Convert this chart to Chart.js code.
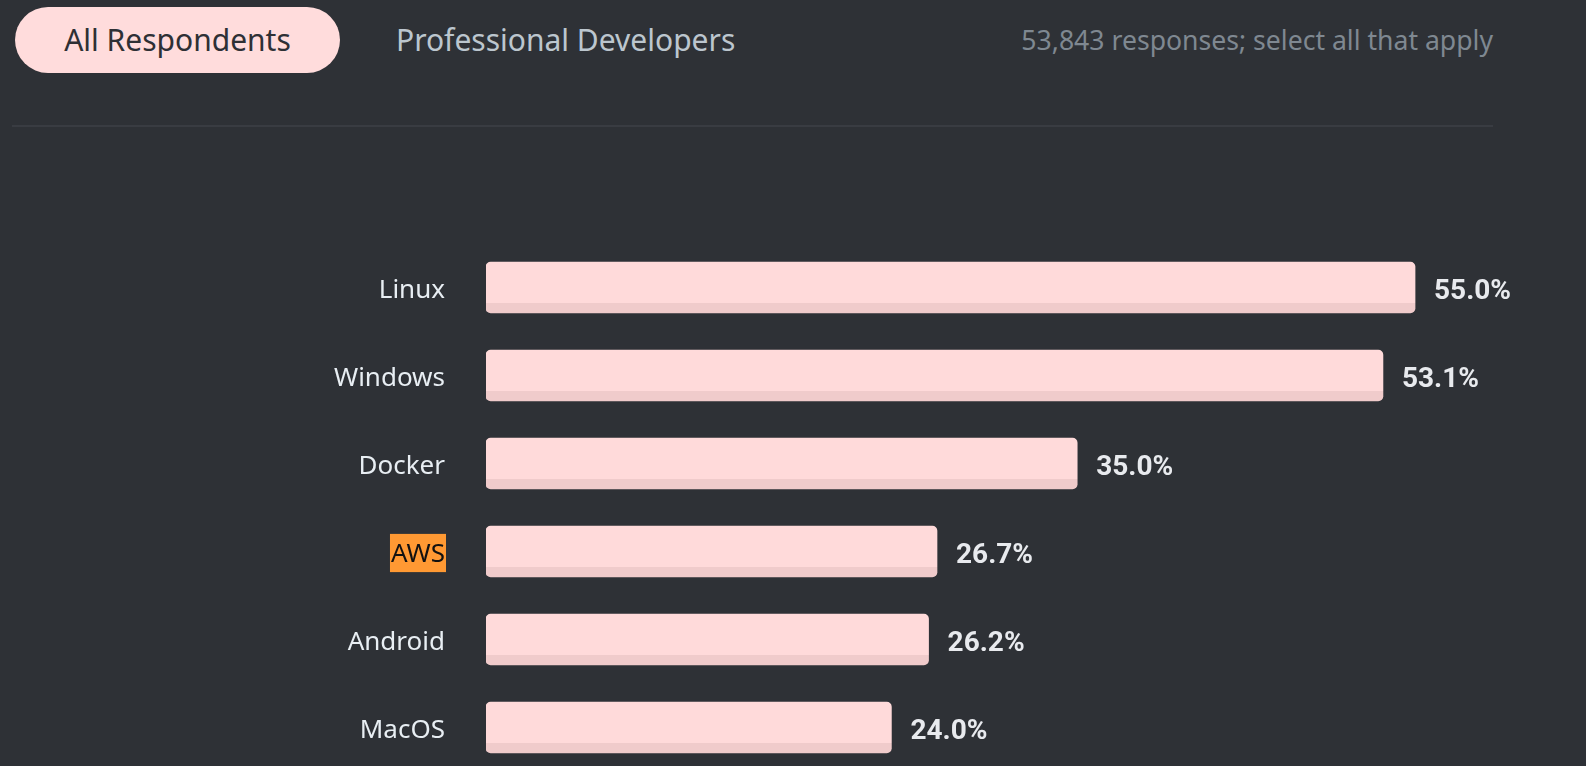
<!DOCTYPE html>
<html>
<head>
<meta charset="utf-8">
<script src="https://cdn.jsdelivr.net/npm/chart.js@4.4.1/dist/chart.umd.min.js"></script>
<style>
  html, body { margin: 0; padding: 0; background: #2e3136; overflow: hidden; width: 1586px; height: 766px; }
  #c { position: absolute; left: 0; top: 0; width: 1586px; height: 832px; }
  .pill { position: absolute; left: 15px; top: 7px; width: 325px; height: 66px; border-radius: 33px; background: #ffdcdc;
    color: #2e3035; font-family: "Noto Sans", sans-serif; font-size: 30px; line-height: 66px; text-align: center; }
  .tab2 { position: absolute; left: 396px; top: 7px; height: 66px; line-height: 66px; color: #bcc6ce;
    font-family: "Noto Sans", sans-serif; font-size: 30px; white-space: nowrap; }
  .note { position: absolute; right: 93px; top: 7px; height: 66px; line-height: 66px; color: #7f8891;
    font-family: "Noto Sans", sans-serif; font-size: 26.6px; white-space: nowrap; }
  .sep { position: absolute; left: 12px; top: 125px; width: 1481px; height: 2px; background: #393c42; }
</style>
</head>
<body>
<div class="pill">All Respondents</div>
<div class="tab2">Professional Developers</div>
<div class="note">53,843 responses; select all that apply</div>
<div class="sep"></div>
<canvas id="c" width="1586" height="832"></canvas>
<script>
const categories = ["Linux", "Windows", "Docker", "AWS", "Android", "MacOS"];
const percentages = [55.0, 53.1, 35.0, 26.7, 26.2, 24.0];
const highlightedCategory = "AWS";

const LIGHT = '#ffdada';
const DARK = '#f0cbcb';
const BAR_T = 51;

function barFill(ctx) {
  const chart = ctx.chart;
  const ys = chart.scales && chart.scales.y;
  if (!ys || ctx.dataIndex === undefined) return LIGHT;
  const cy = ys.getPixelForValue(ctx.dataIndex);
  if (!isFinite(cy)) return LIGHT;
  const g = chart.ctx.createLinearGradient(0, cy - BAR_T / 2, 0, cy + BAR_T / 2);
  const cut = (BAR_T - 10) / BAR_T;
  g.addColorStop(0, LIGHT);
  g.addColorStop(cut, LIGHT);
  g.addColorStop(cut, DARK);
  g.addColorStop(1, DARK);
  return g;
}

const valueLabels = {
  id: 'valueLabels',
  afterDatasetsDraw(chart) {
    const c = chart.ctx;
    const meta = chart.getDatasetMeta(0);
    c.save();
    c.font = 'bold 28px Roboto, "Liberation Sans", sans-serif';
    c.fillStyle = '#e8eaee';
    c.textAlign = 'left';
    c.textBaseline = 'middle';
    meta.data.forEach((el, i) => {
      const v = chart.data.datasets[0].data[i];
      c.fillText(v.toFixed(1) + '%', el.x + 19, el.y + 4);
    });
    c.restore();
  }
};

new Chart(document.getElementById('c'), {
  type: 'bar',
  data: {
    labels: categories,
    datasets: [{
      data: percentages,
      backgroundColor: barFill,
      borderRadius: 5,
      borderSkipped: false,
      barThickness: BAR_T
    }]
  },
  options: {
    indexAxis: 'y',
    responsive: false,
    animation: false,
    layout: { padding: { left: 0, right: 86.5, top: 243.5, bottom: 60.5 } },
    plugins: { legend: { display: false }, tooltip: { enabled: false } },
    scales: {
      x: { display: false, min: 0, max: 60 },
      y: {
        afterFit(scale) { scale.width = 486; },
        grid: { display: false, drawTicks: false },
        border: { display: false },
        ticks: {
          padding: 41,
          labelOffset: 3.5,
          font: { family: '"Noto Sans", sans-serif', size: 26 },
          color: (ctx) => categories[ctx.index] === highlightedCategory ? '#111111' : '#e8eef3',
          showLabelBackdrop: (ctx) => categories[ctx.index] === highlightedCategory,
          backdropColor: '#ff9933',
          backdropPadding: { top: 5.5, bottom: 1.5, left: 1, right: 1 }
        }
      }
    }
  },
  plugins: [valueLabels]
});
</script>
</body>
</html>
